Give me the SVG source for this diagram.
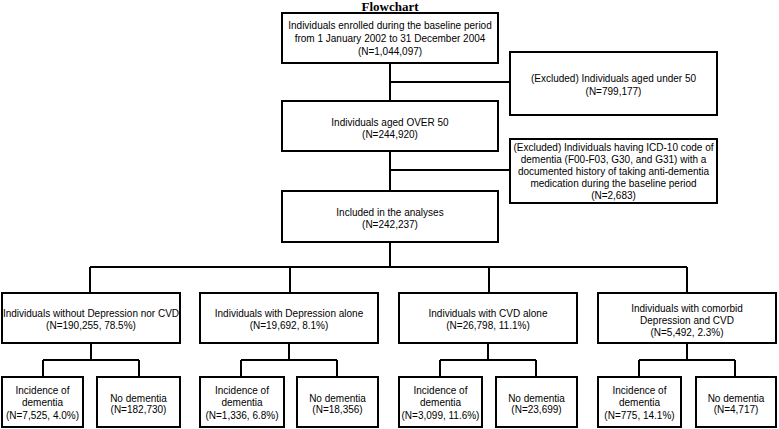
<svg xmlns="http://www.w3.org/2000/svg" width="779" height="429" viewBox="0 0 779 429">
<style>
.b{fill:#fff;stroke:#000;stroke-width:2}
.c{fill:none;stroke:#000;stroke-width:2}
text{font-family:"Liberation Sans",Arial,sans-serif;font-size:10px;fill:#000;text-anchor:middle}
.t{font-family:"Liberation Serif","Times New Roman",serif;font-size:13px;font-weight:bold}
</style>
<rect width="779" height="429" fill="#fff"/>
<text class="t" x="390" y="11">Flowchart</text>
<g id="connectors">
<path class="c" d="M390 63V101M390 82H510M390 151V191M390 170H510M390 242V267M90 267H687M90 267V293M290 267V293M489 267V293M687 267V293"/>
<path class="c" d="M91 343V360M43 360H139M43 360V377M139 360V377"/>
<path class="c" d="M289 343V360M241 360H337M241 360V377M337 360V377"/>
<path class="c" d="M488 343V360M440 360H536M440 360V377M536 360V377"/>
<path class="c" d="M687 343V360M639 360H735M639 360V377M735 360V377"/>
</g>
<g id="n1"><rect class="b" x="282" y="13" width="216" height="50"/><text x="390" y="29">Individuals enrolled during the baseline period</text><text x="390" y="42">from 1 January 2002 to 31 December 2004</text><text x="390" y="55">(N=1,044,097)</text></g>
<g id="ex1"><rect class="b" x="510" y="52" width="207" height="63"/><text x="613.5" y="81.5">(Excluded) Individuals aged under 50</text><text x="613.5" y="94.5">(N=799,177)</text></g>
<g id="n2"><rect class="b" x="282" y="101" width="216" height="50"/><text x="390" y="125.5">Individuals aged OVER 50</text><text x="390" y="137.5">(N=244,920)</text></g>
<g id="ex2"><rect class="b" x="510" y="139" width="207" height="64"/><text x="613.5" y="151">(Excluded) Individuals having ICD-10 code of</text><text x="613.5" y="163">dementia (F00-F03, G30, and G31) with a</text><text x="613.5" y="175">documented history of taking anti-dementia</text><text x="613.5" y="187">medication during the baseline period</text><text x="613.5" y="199">(N=2,683)</text></g>
<g id="n3"><rect class="b" x="282" y="191" width="216" height="51"/><text x="390" y="215.5">Included in the analyses</text><text x="390" y="227.5">(N=242,237)</text></g>
<g id="g1"><rect class="b" x="2" y="293" width="178" height="50"/><text x="91" y="316.5">Individuals without Depression nor CVD</text><text x="91" y="328.5">(N=190,255, 78.5%)</text></g>
<g id="g2"><rect class="b" x="200" y="293" width="178" height="50"/><text x="289" y="316.5">Individuals with Depression alone</text><text x="289" y="328.5">(N=19,692, 8.1%)</text></g>
<g id="g3"><rect class="b" x="399" y="293" width="178" height="50"/><text x="488" y="316.5">Individuals with CVD alone</text><text x="488" y="328.5">(N=26,798, 11.1%)</text></g>
<g id="g4"><rect class="b" x="598" y="293" width="178" height="50"/><text x="687" y="311.5">Individuals with comorbid</text><text x="687" y="323.5">Depression and CVD</text><text x="687" y="335.5">(N=5,492, 2.3%)</text></g>
<g id="l1a"><rect class="b" x="2" y="377" width="81" height="50"/><text x="42.5" y="393.5">Incidence of</text><text x="42.5" y="406">dementia</text><text x="42.5" y="418.5">(N=7,525, 4.0%)</text></g>
<g id="l1b"><rect class="b" x="97" y="377" width="83" height="50"/><text x="138.5" y="401.5">No dementia</text><text x="138.5" y="413">(N=182,730)</text></g>
<g id="l2a"><rect class="b" x="200" y="377" width="84" height="50"/><text x="242" y="393.5">Incidence of</text><text x="242" y="406">dementia</text><text x="242" y="418.5">(N=1,336, 6.8%)</text></g>
<g id="l2b"><rect class="b" x="297" y="377" width="81" height="50"/><text x="337.5" y="401.5">No dementia</text><text x="337.5" y="413">(N=18,356)</text></g>
<g id="l3a"><rect class="b" x="399" y="377" width="83" height="50"/><text x="440.5" y="393.5">Incidence of</text><text x="440.5" y="406">dementia</text><text x="440.5" y="418.5">(N=3,099, 11.6%)</text></g>
<g id="l3b"><rect class="b" x="496" y="377" width="81" height="50"/><text x="536.5" y="401.5">No dementia</text><text x="536.5" y="413">(N=23,699)</text></g>
<g id="l4a"><rect class="b" x="598" y="377" width="83" height="50"/><text x="639.5" y="393.5">Incidence of</text><text x="639.5" y="406">dementia</text><text x="639.5" y="418.5">(N=775, 14.1%)</text></g>
<g id="l4b"><rect class="b" x="696" y="377" width="80" height="50"/><text x="736" y="401.5">No dementia</text><text x="736" y="413">(N=4,717)</text></g>
</svg>
